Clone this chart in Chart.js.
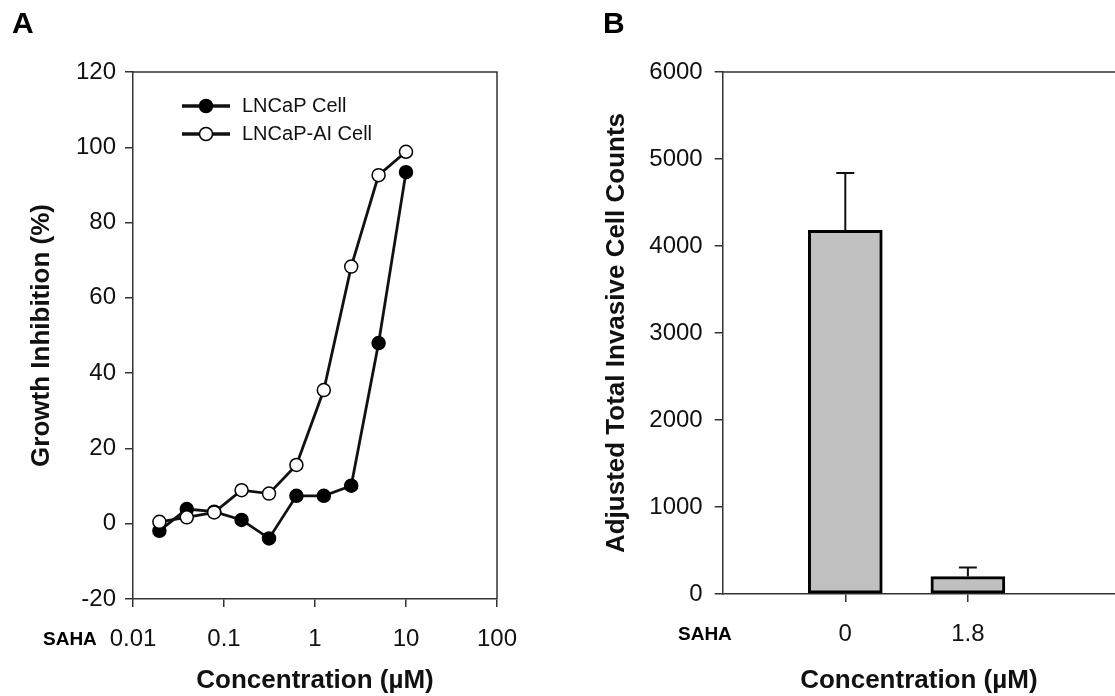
<!DOCTYPE html>
<html>
<head>
<meta charset="utf-8">
<script src="https://cdn.jsdelivr.net/npm/chart.js@4.4.1/dist/chart.umd.min.js"></script>
<style>
  html, body { margin:0; padding:0; background:#fff; }
  #wrap { position:relative; width:1115px; height:696px; overflow:hidden; }
  #panelA { position:absolute; left:0; top:0; }
  #panelB { position:absolute; left:560px; top:0; }
</style>
</head>
<body>
<div id="wrap">
  <canvas id="panelA" width="560" height="696"></canvas>
  <canvas id="panelB" width="555" height="696"></canvas>
</div>
<script>
// A: growth inhibition vs SAHA concentration (uM)
const concUM       = [0.0195, 0.039, 0.078, 0.156, 0.3125, 0.625, 1.25, 2.5, 5, 10];
const lncapInhib   = [-1.9, 3.9, 3.2, 1.0, -3.9, 7.4, 7.4, 10.1, 48.0, 93.4];
const lncapAIInhib = [0.5, 1.7, 3.0, 8.9, 8.0, 15.6, 35.5, 68.3, 92.6, 98.8];
const logTicks     = [0.01, 0.1, 1, 10, 100];

// B: invasion assay
const sahaDoses      = ['0', '1.8'];
const invasiveCounts = [4180, 200];
const invasiveErr    = [660, 105];

const AXIS = '#333';
const INK  = '#111';
const FONT = "'Liberation Sans', Arial, sans-serif";
Chart.defaults.font.family = FONT;
Chart.defaults.color = INK;

// top (and optionally right) edge of the plot box
const frame = {
    id: 'frame',
    afterDraw(chart, args, opts) {
        const { ctx, chartArea: a } = chart;
        ctx.save();
        ctx.strokeStyle = AXIS;
        ctx.lineWidth = 1.5;
        ctx.beginPath();
        ctx.moveTo(a.left, a.top);
        ctx.lineTo(a.right, a.top);
        if (opts.right) ctx.lineTo(a.right, a.bottom);
        ctx.stroke();
        ctx.restore();
    }
};

// panel letter + "SAHA" row label
const panelLabels = {
    id: 'panelLabels',
    afterDraw(chart, args, opts) {
        const ctx = chart.ctx;
        ctx.save();
        ctx.fillStyle = '#000';
        ctx.textBaseline = 'alphabetic';
        ctx.font = `bold 30px ${FONT}`;
        ctx.fillText(opts.letter, opts.letterX, 33);
        ctx.font = `bold 19px ${FONT}`;
        ctx.textBaseline = 'middle';
        ctx.fillText('SAHA', opts.sahaX, opts.sahaY);
        ctx.restore();
    }
};

// legend inside plot: line with marker, like the original figure
const lineLegend = {
    id: 'lineLegend',
    afterDraw(chart, args, opts) {
        const ctx = chart.ctx;
        chart.data.datasets.forEach((ds, i) => {
            const y = opts.y + i * opts.rowGap;
            const mx = opts.x + opts.len / 2;
            ctx.save();
            ctx.strokeStyle = ds.borderColor;
            ctx.lineWidth = 3.5;
            ctx.beginPath();
            ctx.moveTo(opts.x, y);
            ctx.lineTo(opts.x + opts.len, y);
            ctx.stroke();
            ctx.beginPath();
            ctx.arc(mx, y, ds.pointRadius, 0, Math.PI * 2);
            ctx.fillStyle = ds.pointBackgroundColor;
            ctx.fill();
            ctx.lineWidth = ds.pointBorderWidth;
            ctx.strokeStyle = ds.pointBorderColor;
            ctx.stroke();
            ctx.fillStyle = INK;
            ctx.font = `20px ${FONT}`;
            ctx.textBaseline = 'middle';
            ctx.fillText(ds.label, opts.x + opts.len + 12, y);
            ctx.restore();
        });
    }
};

// upward-only error bars
const errorBars = {
    id: 'errorBars',
    afterDatasetsDraw(chart, args, opts) {
        const { ctx, scales: { y } } = chart;
        const ds = chart.data.datasets[0];
        const meta = chart.getDatasetMeta(0);
        ctx.save();
        ctx.strokeStyle = INK;
        ctx.lineWidth = 2;
        meta.data.forEach((bar, i) => {
            const top = y.getPixelForValue(ds.data[i].y + opts.errors[i]);
            ctx.beginPath();
            ctx.moveTo(bar.x, bar.y);
            ctx.lineTo(bar.x, top);
            ctx.moveTo(bar.x - opts.cap / 2, top);
            ctx.lineTo(bar.x + opts.cap / 2, top);
            ctx.stroke();
        });
        ctx.restore();
    }
};

const tickFont  = { size: 24 };
const titleFont = { size: 26, weight: 'bold' };
const axisGrid  = { drawOnChartArea: false, tickLength: 8, color: AXIS, lineWidth: 1.5 };
const axisBorder = { color: AXIS, width: 1.5 };

new Chart(document.getElementById('panelA'), {
    type: 'scatter',
    data: {
        datasets: [
            {
                label: 'LNCaP Cell',
                data: concUM.map((c, i) => ({ x: c, y: lncapInhib[i] })),
                showLine: true, borderColor: INK, borderWidth: 2.8,
                pointRadius: 6.5, pointBackgroundColor: '#000', pointBorderColor: '#000', pointBorderWidth: 1.5,
                order: 1
            },
            {
                label: 'LNCaP-AI Cell',
                data: concUM.map((c, i) => ({ x: c, y: lncapAIInhib[i] })),
                showLine: true, borderColor: INK, borderWidth: 2.8,
                pointRadius: 6.5, pointBackgroundColor: '#fff', pointBorderColor: '#000', pointBorderWidth: 1.5,
                order: 0
            }
        ]
    },
    options: {
        responsive: false, animation: false,
        layout: { padding: { top: 72, right: 63, left: 0, bottom: 0 } },
        plugins: {
            legend: { display: false }, tooltip: { enabled: false },
            frame: { right: true },
            lineLegend: { x: 182, y: 106, len: 48, rowGap: 28 },
            panelLabels: { letter: 'A', letterX: 12, sahaX: 43, sahaY: 640 }
        },
        scales: {
            x: {
                type: 'logarithmic', min: 0.01, max: 100,
                afterBuildTicks: s => { s.ticks = logTicks.map(v => ({ value: v })); },
                afterFit: s => { s.height = 97; },
                ticks: { callback: v => String(v), font: tickFont, color: INK, padding: 18, maxRotation: 0, autoSkip: false },
                grid: axisGrid, border: axisBorder,
                title: { display: true, text: 'Concentration (µM)', font: titleFont, color: INK, padding: { top: 0, bottom: 0 } }
            },
            y: {
                min: -20, max: 120,
                afterFit: s => { s.width = 133; },
                ticks: { stepSize: 20, callback: v => String(v), font: tickFont, color: INK, padding: 9 },
                grid: axisGrid, border: axisBorder,
                title: { display: true, text: 'Growth Inhibition (%)', font: titleFont, color: INK, padding: { top: 26, bottom: 0 } }
            }
        }
    },
    plugins: [frame, lineLegend, panelLabels]
});

new Chart(document.getElementById('panelB'), {
    type: 'bar',
    data: {
        datasets: [{
            data: sahaDoses.map((d, i) => ({ x: i + 1, y: invasiveCounts[i] })),
            backgroundColor: '#c0c0c0', borderColor: '#000', borderWidth: 3,
            barThickness: 74, borderSkipped: false
        }]
    },
    options: {
        responsive: false, animation: false,
        layout: { padding: { top: 72, right: 0, left: 0, bottom: 0 } },
        plugins: {
            legend: { display: false }, tooltip: { enabled: false },
            frame: { right: false },
            errorBars: { errors: invasiveErr, cap: 18 },
            panelLabels: { letter: 'B', letterX: 43, sahaX: 118, sahaY: 635 }
        },
        scales: {
            x: {
                type: 'linear', min: 0, max: 3.2, offset: false,
                afterBuildTicks: s => { s.ticks = sahaDoses.map((d, i) => ({ value: i + 1 })); },
                afterFit: s => { s.height = 102; },
                ticks: { callback: v => sahaDoses[v - 1], font: tickFont, color: INK, padding: 18, maxRotation: 0, autoSkip: false },
                grid: { ...axisGrid, offset: false }, border: axisBorder,
                title: { display: true, text: 'Concentration (µM)', font: titleFont, color: INK, padding: { top: 0, bottom: 0 } }
            },
            y: {
                min: 0, max: 6000,
                afterFit: s => { s.width = 162.7; },
                ticks: { stepSize: 1000, callback: v => String(v), font: tickFont, color: INK, padding: 12 },
                grid: axisGrid, border: axisBorder,
                title: { display: true, text: 'Adjusted Total Invasive Cell Counts', font: titleFont, color: INK, padding: { top: 41, bottom: 0 } }
            }
        }
    },
    plugins: [frame, errorBars, panelLabels]
});
</script>
</body>
</html>
